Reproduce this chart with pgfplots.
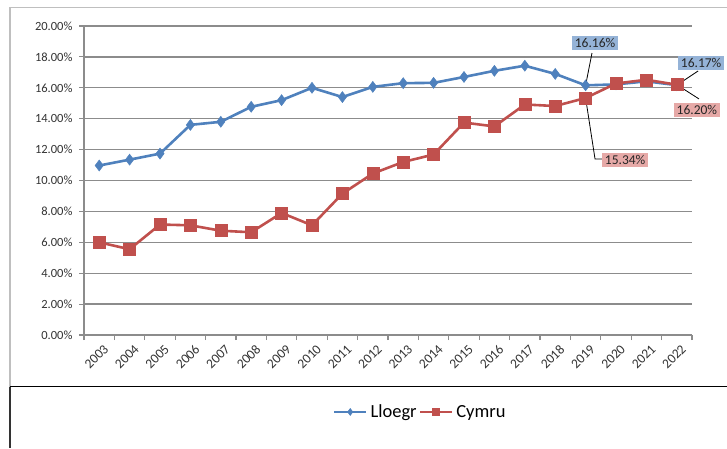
\documentclass[border=0pt]{standalone}
\usepackage{pgfplots}
\pgfplotsset{compat=1.18}
\usepackage{fontspec}
\setmainfont{Carlito}
\definecolor{ser1}{HTML}{4F81BD}
\definecolor{ser2}{HTML}{C0504D}
\definecolor{lab1}{HTML}{95B3D7}
\definecolor{lab2}{HTML}{E6A9A7}
\definecolor{gridc}{HTML}{8C8C8C}
\definecolor{framec}{HTML}{BFBFBF}
\begin{document}
\begin{tikzpicture}[x=1pt,y=1pt]
\useasboundingbox (0,0) rectangle (727,448);
% frames
\draw[framec,line width=1.2pt] (10,440.5) -- (727,440.5);
\draw[framec,line width=1.2pt] (10,440.5) -- (10,61.5);
\draw[black,line width=1.2pt] (10,61.5) -- (727,61.5);
\draw[black!80,line width=1.2pt] (10,61.5) -- (10,0);
\begin{axis}[
  at={(84pt,113pt)}, anchor=south west,
  scale only axis, width=608pt, height=309pt,
  xmin=-0.5, xmax=19.5, ymin=0, ymax=20,
  axis x line*=bottom, axis y line*=left,
  axis line style={gridc, line width=1.3pt, -},
  xtick={0,...,19},
  xticklabels={2003,2004,2005,2006,2007,2008,2009,2010,2011,2012,2013,2014,2015,2016,2017,2018,2019,2020,2021,2022},
  major x tick style={draw=none},
  minor xtick={-0.5,0.5,...,19.5},
  minor tick length=5pt,
  minor x tick style={gridc, line width=1.1pt},
  xtick pos=bottom, xtick align=outside,
  ytick={0,2,...,20},
  ytick align=outside, ytick pos=left,
  major tick length=5pt,
  major y tick style={gridc, line width=1.1pt},
  ymajorgrids, major grid style={gridc, line width=1.3pt},
  yticklabel={\pgfmathprintnumber[fixed,fixed zerofill,precision=2]{\tick}\%},
  /pgf/number format/assume math mode=true,
  yticklabel style={font=\fontsize{12.5}{14}\selectfont, text=black!80, xshift=-3pt},
  xticklabel style={font=\fontsize{13.5}{15}\selectfont, text=black!80, rotate=45, anchor=east, inner sep=1pt, xshift=1pt, yshift=-10pt},
  clip=false,
  legend columns=2,
  legend style={at={(0.553,-0.249)}, anchor=center, draw=none, fill=none,
    font=\fontsize{18.5}{20}\selectfont, column sep=1pt,
    /tikz/every even column/.append style={column sep=0pt}},
  legend image code/.code={
    \draw[#1, mark=none] (0pt,0pt) -- (32pt,0pt);
    \draw[#1, mark repeat=1, mark size=3.5pt] plot coordinates {(16pt,0pt)};
  },
]
\addplot[ser1, line width=2.6pt, mark=diamond*, mark size=5.5pt, mark options={solid, line width=0.5pt}] coordinates {
(0,10.97) (1,11.35) (2,11.74) (3,13.60) (4,13.80) (5,14.77) (6,15.20) (7,16.00)
(8,15.40) (9,16.06) (10,16.30) (11,16.32) (12,16.70) (13,17.10) (14,17.43) (15,16.90)
(16,16.16) (17,16.22) (18,16.42) (19,16.17)};
\addlegendentry{Lloegr}
\addplot[ser2, line width=2.6pt, mark=square*, mark size=6pt, mark options={solid, line width=0.5pt}] coordinates {
(0,6.00) (1,5.55) (2,7.15) (3,7.10) (4,6.75) (5,6.65) (6,7.90) (7,7.10)
(8,9.15) (9,10.45) (10,11.20) (11,11.68) (12,13.75) (13,13.50) (14,14.92) (15,14.82)
(16,15.34) (17,16.28) (18,16.52) (19,16.20)};
\addlegendentry{Cymru}
% data labels
\draw[black, line width=0.8pt] (axis cs:16.21,18.25) -- (axis cs:16,16.16);
\node[fill=lab1, inner sep=2.5pt, font=\fontsize{13.5}{15}\selectfont, text=black!85] at (axis cs:16.31,18.90) {16.16\%};
\draw[black, line width=0.8pt] (axis cs:19.70,17.09) -- (axis cs:19,16.17);
\node[fill=lab1, inner sep=2.5pt, font=\fontsize{13.5}{15}\selectfont, text=black!85] at (axis cs:19.80,17.61) {16.17\%};
\draw[black, line width=0.8pt] (axis cs:19.73,15.28) -- (axis cs:19,16.20);
\node[fill=lab2, inner sep=2.5pt, font=\fontsize{13.5}{15}\selectfont, text=black!85] at (axis cs:19.66,14.56) {16.20\%};
\draw[black, line width=0.8pt] (axis cs:16,15.34) -- (axis cs:16.31,11.39) -- (axis cs:16.54,11.39);
\node[fill=lab2, inner sep=2.5pt, font=\fontsize{13.5}{15}\selectfont, text=black!85] at (axis cs:17.30,11.33) {15.34\%};
\end{axis}
\end{tikzpicture}
\end{document}
